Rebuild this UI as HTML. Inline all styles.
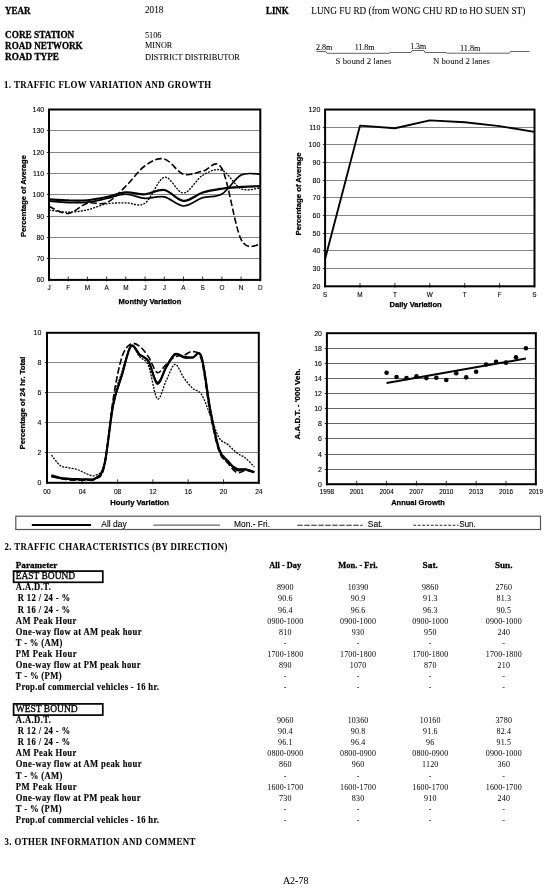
<!DOCTYPE html>
<html><head><meta charset="utf-8"><title>A2-78</title>
<style>
html,body{margin:0;padding:0;background:#fff;}
body{width:550px;height:889px;overflow:hidden;position:relative;}
svg{position:absolute;left:0;top:0;display:block;will-change:transform;filter:blur(0.25px);}
.S{font-family:"Liberation Serif",serif;stroke:#000;stroke-width:0.06px;}
.S[font-weight=bold]{stroke-width:0.28px;}
.A{font-family:"Liberation Sans",sans-serif;stroke:#000;stroke-width:0.1px;}
.A[font-weight=bold]{stroke-width:0.25px;}
</style></head>
<body>
<svg width="550" height="889" viewBox="0 0 550 889">
<rect width="550" height="889" fill="#fff"/>
<text class="S" transform="translate(5.10 14.00) scale(1 1.1)" font-size="9.2" font-weight="bold" textLength="25.4" lengthAdjust="spacingAndGlyphs" fill="#000">YEAR</text>
<text class="S" transform="translate(145.00 13.40) scale(1 1.08)" font-size="9.2" textLength="18.3" lengthAdjust="spacingAndGlyphs" fill="#000">2018</text>
<text class="S" transform="translate(266.00 13.60) scale(1 1.1)" font-size="9.2" font-weight="bold" textLength="22.6" lengthAdjust="spacingAndGlyphs" fill="#000">LINK</text>
<text class="S" transform="translate(311.30 13.60) scale(1 1.08)" font-size="9.2" textLength="214.0" lengthAdjust="spacingAndGlyphs" fill="#000">LUNG FU RD (from WONG CHU RD to HO SUEN ST)</text>
<text class="S" transform="translate(5.10 37.80) scale(1 1.12)" font-size="9.2" font-weight="bold" textLength="69.2" lengthAdjust="spacingAndGlyphs" fill="#000">CORE STATION</text>
<text class="S" transform="translate(5.10 48.70) scale(1 1.12)" font-size="9.2" font-weight="bold" textLength="77.6" lengthAdjust="spacingAndGlyphs" fill="#000">ROAD NETWORK</text>
<text class="S" transform="translate(5.10 59.70) scale(1 1.12)" font-size="9.2" font-weight="bold" textLength="53.9" lengthAdjust="spacingAndGlyphs" fill="#000">ROAD TYPE</text>
<text class="S" transform="translate(145.00 37.60) scale(1 1.08)" font-size="8.4" textLength="16.4" lengthAdjust="spacingAndGlyphs" fill="#000">5106</text>
<text class="S" transform="translate(145.00 47.90) scale(1 1.08)" font-size="8.4" textLength="27.3" lengthAdjust="spacingAndGlyphs" fill="#000">MINOR</text>
<text class="S" transform="translate(145.00 59.50) scale(1 1.08)" font-size="8.4" textLength="94.9" lengthAdjust="spacingAndGlyphs" fill="#000">DISTRICT DISTRIBUTOR</text>
<path d="M316.5 51.5 H326 L327 53.3 H389 L390 52.5 H411 L412 50.5 H424 L425 52.5 H446 L447 53.2 H509.5 L510.5 51.5 H529.5" fill="none" stroke="#555" stroke-width="0.9"/>
<text class="S" transform="translate(316.00 49.60) scale(1 1.08)" font-size="8.2" textLength="16.4" lengthAdjust="spacingAndGlyphs" fill="#000">2.8m</text>
<text class="S" transform="translate(354.70 50.10) scale(1 1.08)" font-size="8.2" textLength="19.8" lengthAdjust="spacingAndGlyphs" fill="#000">11.8m</text>
<text class="S" transform="translate(410.20 49.00) scale(1 1.08)" font-size="8.2" textLength="16.0" lengthAdjust="spacingAndGlyphs" fill="#000">1.3m</text>
<text class="S" transform="translate(460.00 50.50) scale(1 1.08)" font-size="8.2" textLength="20.4" lengthAdjust="spacingAndGlyphs" fill="#000">11.8m</text>
<text class="S" transform="translate(335.60 63.80) scale(1 1.08)" font-size="7.8" textLength="55.7" lengthAdjust="spacingAndGlyphs" fill="#222">S bound 2 lanes</text>
<text class="S" transform="translate(433.00 64.00) scale(1 1.08)" font-size="7.8" textLength="57.0" lengthAdjust="spacingAndGlyphs" fill="#222">N bound 2 lanes</text>
<text class="S" transform="translate(4.00 88.20) scale(1 1.08)" font-size="8.8" font-weight="bold" textLength="207.2" lengthAdjust="spacing" fill="#000" style="stroke-width:0.05px">1. TRAFFIC FLOW VARIATION AND GROWTH</text>
<path d="M49 258.5H260.3M49 237.5H260.3M49 216.5H260.3M49 194.5H260.3M49 173.5H260.3M49 152.5H260.3M49 130.5H260.3" stroke="#858585" stroke-width="1" fill="none"/>
<path d="M46.8 258.5H49M46.8 237.5H49M46.8 216.5H49M46.8 194.5H49M46.8 173.5H49M46.8 152.5H49M46.8 130.5H49" stroke="#000" stroke-width="0.8" fill="none"/>
<path d="M49 210.04 C52.2 210.39 61.81 212.2 68.21 212.17 C74.61 212.13 81.02 211.21 87.42 209.82 C93.82 208.44 100.22 205.03 106.63 203.86 C113.03 202.69 119.43 202.9 125.84 202.79 C132.24 202.69 138.64 207.48 145.05 203.22 C151.45 198.96 157.85 178.94 164.25 177.23 C170.66 175.53 177.06 193.32 183.46 193 C189.87 192.68 196.27 179.12 202.67 175.32 C209.08 171.52 215.48 167.97 221.88 170.2 C228.28 172.44 234.69 185.79 241.09 188.74 C247.49 191.68 257.1 188.03 260.3 187.88" stroke="#000" stroke-width="1.3" stroke-dasharray="2 1.2" fill="none"/>
<path d="M49 206.41 C52.2 207.59 61.81 213.98 68.21 213.44 C74.61 212.91 81.02 205 87.42 203.22 C93.82 201.44 100.22 205.63 106.63 202.79 C113.03 199.95 119.43 192.36 125.84 186.18 C132.24 180 138.64 170.28 145.05 165.73 C151.45 161.19 157.85 157.5 164.25 158.92 C170.66 160.34 177.06 172.19 183.46 174.25 C189.87 176.31 196.27 172.23 202.67 171.27 C209.08 170.31 215.48 157.14 221.88 168.5 C228.28 179.86 234.69 226.76 241.09 239.43 C247.49 252.1 257.1 243.69 260.3 244.54" stroke="#000" stroke-width="1.6" stroke-dasharray="6.5 2.6" fill="none"/>
<path d="M49 201.09 C52.2 201.34 61.81 202.4 68.21 202.58 C74.61 202.76 81.02 202.83 87.42 202.16 C93.82 201.48 100.22 199.85 106.63 198.53 C113.03 197.22 119.43 194.31 125.84 194.27 C132.24 194.24 138.64 197.9 145.05 198.32 C151.45 198.75 157.85 195.55 164.25 196.83 C170.66 198.11 177.06 205.85 183.46 205.99 C189.87 206.13 196.27 199.67 202.67 197.68 C209.08 195.69 215.48 197.82 221.88 194.06 C228.28 190.3 234.69 178.41 241.09 175.1 C247.49 171.8 257.1 174.39 260.3 174.25" stroke="#000" stroke-width="1.7" fill="none"/>
<path d="M49 199.39 C52.2 199.56 61.81 200.31 68.21 200.45 C74.61 200.59 81.02 200.81 87.42 200.24 C93.82 199.67 100.22 198.36 106.63 197.04 C113.03 195.73 119.43 192.82 125.84 192.36 C132.24 191.9 138.64 194.66 145.05 194.27 C151.45 193.88 157.85 188.91 164.25 190.01 C170.66 191.11 177.06 200.45 183.46 200.88 C189.87 201.3 196.27 194.59 202.67 192.57 C209.08 190.55 215.48 189.69 221.88 188.74 C228.28 187.78 234.69 187.24 241.09 186.82 C247.49 186.39 257.1 186.29 260.3 186.18" stroke="#000" stroke-width="2.2" fill="none"/>
<rect x="49" y="109.5" width="211.3" height="170.4" fill="none" stroke="#000" stroke-width="2"/>
<path d="M49 281.3v-4.8M68.21 281.3v-4.8M87.42 281.3v-4.8M106.63 281.3v-4.8M125.84 281.3v-4.8M145.05 281.3v-4.8M164.25 281.3v-4.8M183.46 281.3v-4.8M202.67 281.3v-4.8M221.88 281.3v-4.8M241.09 281.3v-4.8M260.3 281.3v-4.8" stroke="#000" stroke-width="0.8" fill="none"/>
<text class="A" x="44.20" y="282.40" font-size="7" text-anchor="end" fill="#000">60</text>
<text class="A" x="44.20" y="261.10" font-size="7" text-anchor="end" fill="#000">70</text>
<text class="A" x="44.20" y="239.80" font-size="7" text-anchor="end" fill="#000">80</text>
<text class="A" x="44.20" y="218.50" font-size="7" text-anchor="end" fill="#000">90</text>
<text class="A" x="44.20" y="197.20" font-size="7" text-anchor="end" fill="#000">100</text>
<text class="A" x="44.20" y="175.90" font-size="7" text-anchor="end" fill="#000">110</text>
<text class="A" x="44.20" y="154.60" font-size="7" text-anchor="end" fill="#000">120</text>
<text class="A" x="44.20" y="133.30" font-size="7" text-anchor="end" fill="#000">130</text>
<text class="A" x="44.20" y="112.00" font-size="7" text-anchor="end" fill="#000">140</text>
<text class="A" x="49.00" y="289.90" font-size="6.4" text-anchor="middle" fill="#000">J</text>
<text class="A" x="68.21" y="289.90" font-size="6.4" text-anchor="middle" fill="#000">F</text>
<text class="A" x="87.42" y="289.90" font-size="6.4" text-anchor="middle" fill="#000">M</text>
<text class="A" x="106.63" y="289.90" font-size="6.4" text-anchor="middle" fill="#000">A</text>
<text class="A" x="125.84" y="289.90" font-size="6.4" text-anchor="middle" fill="#000">M</text>
<text class="A" x="145.05" y="289.90" font-size="6.4" text-anchor="middle" fill="#000">J</text>
<text class="A" x="164.25" y="289.90" font-size="6.4" text-anchor="middle" fill="#000">J</text>
<text class="A" x="183.46" y="289.90" font-size="6.4" text-anchor="middle" fill="#000">A</text>
<text class="A" x="202.67" y="289.90" font-size="6.4" text-anchor="middle" fill="#000">S</text>
<text class="A" x="221.88" y="289.90" font-size="6.4" text-anchor="middle" fill="#000">O</text>
<text class="A" x="241.09" y="289.90" font-size="6.4" text-anchor="middle" fill="#000">N</text>
<text class="A" x="260.30" y="289.90" font-size="6.4" text-anchor="middle" fill="#000">D</text>
<text class="A" x="149.90" y="304.40" font-size="7.4" font-weight="bold" text-anchor="middle" textLength="62.7" lengthAdjust="spacingAndGlyphs" fill="#000">Monthly Variation</text>
<text class="A" x="0" y="0" font-size="7.4" font-weight="bold" text-anchor="middle" textLength="82" lengthAdjust="spacingAndGlyphs" transform="translate(25.8 196) rotate(-90)">Percentage of Average</text>
<path d="M325.1 268.5H534.5M325.1 250.5H534.5M325.1 233.5H534.5M325.1 215.5H534.5M325.1 197.5H534.5M325.1 180.5H534.5M325.1 162.5H534.5M325.1 144.5H534.5M325.1 127.5H534.5" stroke="#858585" stroke-width="1" fill="none"/>
<path d="M322.9 268.5H325.1M322.9 250.5H325.1M322.9 233.5H325.1M322.9 215.5H325.1M322.9 197.5H325.1M322.9 180.5H325.1M322.9 162.5H325.1M322.9 144.5H325.1M322.9 127.5H325.1" stroke="#000" stroke-width="0.8" fill="none"/>
<path d="M325.1 258.9 L360 125.63 L394.9 128.29 L429.8 120.33 L464.7 122.28 L499.6 126.16 L534.5 131.82" stroke="#000" stroke-width="1.9" fill="none" stroke-linejoin="round"/>
<rect x="325.1" y="109.55" width="209.4" height="176.75" fill="none" stroke="#000" stroke-width="2"/>
<path d="M325.1 287.7v-4.8M360 287.7v-4.8M394.9 287.7v-4.8M429.8 287.7v-4.8M464.7 287.7v-4.8M499.6 287.7v-4.8M534.5 287.7v-4.8" stroke="#000" stroke-width="0.8" fill="none"/>
<text class="A" x="320.30" y="288.80" font-size="7" text-anchor="end" fill="#000">20</text>
<text class="A" x="320.30" y="271.12" font-size="7" text-anchor="end" fill="#000">30</text>
<text class="A" x="320.30" y="253.45" font-size="7" text-anchor="end" fill="#000">40</text>
<text class="A" x="320.30" y="235.78" font-size="7" text-anchor="end" fill="#000">50</text>
<text class="A" x="320.30" y="218.10" font-size="7" text-anchor="end" fill="#000">60</text>
<text class="A" x="320.30" y="200.43" font-size="7" text-anchor="end" fill="#000">70</text>
<text class="A" x="320.30" y="182.75" font-size="7" text-anchor="end" fill="#000">80</text>
<text class="A" x="320.30" y="165.07" font-size="7" text-anchor="end" fill="#000">90</text>
<text class="A" x="320.30" y="147.40" font-size="7" text-anchor="end" fill="#000">100</text>
<text class="A" x="320.30" y="129.72" font-size="7" text-anchor="end" fill="#000">110</text>
<text class="A" x="320.30" y="112.05" font-size="7" text-anchor="end" fill="#000">120</text>
<text class="A" x="325.10" y="297.00" font-size="6.4" text-anchor="middle" fill="#000">S</text>
<text class="A" x="360.00" y="297.00" font-size="6.4" text-anchor="middle" fill="#000">M</text>
<text class="A" x="394.90" y="297.00" font-size="6.4" text-anchor="middle" fill="#000">T</text>
<text class="A" x="429.80" y="297.00" font-size="6.4" text-anchor="middle" fill="#000">W</text>
<text class="A" x="464.70" y="297.00" font-size="6.4" text-anchor="middle" fill="#000">T</text>
<text class="A" x="499.60" y="297.00" font-size="6.4" text-anchor="middle" fill="#000">F</text>
<text class="A" x="534.50" y="297.00" font-size="6.4" text-anchor="middle" fill="#000">S</text>
<text class="A" x="415.60" y="307.20" font-size="7.4" font-weight="bold" text-anchor="middle" textLength="52.3" lengthAdjust="spacingAndGlyphs" fill="#000">Daily Variation</text>
<text class="A" x="0" y="0" font-size="7.4" font-weight="bold" text-anchor="middle" textLength="83" lengthAdjust="spacingAndGlyphs" transform="translate(300.5 194) rotate(-90)">Percentage of Average</text>
<path d="M47 452.5H258.8M47 422.5H258.8M47 392.5H258.8M47 362.5H258.8" stroke="#858585" stroke-width="1" fill="none"/>
<path d="M44.8 452.5H47M44.8 422.5H47M44.8 392.5H47M44.8 362.5H47" stroke="#000" stroke-width="0.8" fill="none"/>
<path d="M51.41 455.05 C52.88 456.8 57.3 463.43 60.24 465.55 C63.18 467.68 66.12 467.1 69.06 467.8 C72 468.5 74.95 468.75 77.89 469.75 C80.83 470.75 83.77 472.88 86.71 473.8 C89.65 474.73 92.6 477.05 95.54 475.3 C98.48 473.55 101.42 475.55 104.36 463.3 C107.3 451.05 110.25 417.05 113.19 401.8 C116.13 386.55 119.07 381.05 122.01 371.8 C124.95 362.55 127.9 348.8 130.84 346.3 C133.78 343.8 136.72 353.55 139.66 356.8 C142.6 360.05 145.55 358.8 148.49 365.8 C151.43 372.8 154.37 396.3 157.31 398.8 C160.25 401.3 163.2 386.55 166.14 380.8 C169.08 375.05 172.02 364.8 174.96 364.3 C177.9 363.8 180.85 373.8 183.79 377.8 C186.73 381.8 189.67 385.55 192.61 388.3 C195.55 391.05 198.5 389.8 201.44 394.3 C204.38 398.8 207.32 408.05 210.26 415.3 C213.2 422.55 216.15 432.93 219.09 437.8 C222.03 442.68 224.97 442.05 227.91 444.55 C230.85 447.05 233.8 450.55 236.74 452.8 C239.68 455.05 242.62 455.68 245.56 458.05 C248.5 460.43 252.92 465.55 254.39 467.05" stroke="#000" stroke-width="1.3" stroke-dasharray="2 1.2" fill="none"/>
<path d="M51.41 476.8 C52.88 477.05 57.3 477.8 60.24 478.3 C63.18 478.8 66.12 479.5 69.06 479.8 C72 480.1 74.95 480.05 77.89 480.1 C80.83 480.15 83.77 480.28 86.71 480.1 C89.65 479.93 92.6 481.35 95.54 479.05 C98.48 476.75 101.42 479.68 104.36 466.3 C107.3 452.93 110.25 417.05 113.19 398.8 C116.13 380.55 119.07 365.93 122.01 356.8 C124.95 347.68 127.9 345.8 130.84 344.05 C133.78 342.3 136.72 344.18 139.66 346.3 C142.6 348.43 145.55 352.43 148.49 356.8 C151.43 361.18 154.37 371.3 157.31 372.55 C160.25 373.8 163.2 366.93 166.14 364.3 C169.08 361.68 172.02 358.3 174.96 356.8 C177.9 355.3 180.85 356.18 183.79 355.3 C186.73 354.43 189.67 350.8 192.61 351.55 C195.55 352.3 198.5 349.43 201.44 359.8 C204.38 370.18 207.32 398.55 210.26 413.8 C213.2 429.05 216.15 443.05 219.09 451.3 C222.03 459.55 224.97 459.75 227.91 463.3 C230.85 466.85 233.8 471.4 236.74 472.6 C239.68 473.8 242.62 470.55 245.56 470.5 C248.5 470.45 252.92 472 254.39 472.3" stroke="#000" stroke-width="1.6" stroke-dasharray="6.5 2.6" fill="none"/>
<path d="M51.41 476.05 C52.88 476.43 57.3 477.8 60.24 478.3 C63.18 478.8 66.12 478.85 69.06 479.05 C72 479.25 74.95 479.43 77.89 479.5 C80.83 479.57 83.77 479.7 86.71 479.5 C89.65 479.3 92.6 480.75 95.54 478.3 C98.48 475.85 101.42 477.05 104.36 464.8 C107.3 452.55 110.25 419.8 113.19 404.8 C116.13 389.8 119.07 384.55 122.01 374.8 C124.95 365.05 127.9 349.68 130.84 346.3 C133.78 342.93 136.72 352.05 139.66 354.55 C142.6 357.05 145.55 356.68 148.49 361.3 C151.43 365.93 154.37 381.3 157.31 382.3 C160.25 383.3 163.2 372.05 166.14 367.3 C169.08 362.55 172.02 355.43 174.96 353.8 C177.9 352.18 180.85 356.93 183.79 357.55 C186.73 358.18 189.67 357.68 192.61 357.55 C195.55 357.43 198.5 348.18 201.44 356.8 C204.38 365.43 207.32 393.8 210.26 409.3 C213.2 424.8 216.15 441.05 219.09 449.8 C222.03 458.55 224.97 458.68 227.91 461.8 C230.85 464.93 233.8 467.3 236.74 468.55 C239.68 469.8 242.62 468.73 245.56 469.3 C248.5 469.88 252.92 471.55 254.39 472" stroke="#000" stroke-width="1.7" fill="none"/>
<path d="M51.41 475.3 C52.88 475.73 57.3 477.28 60.24 477.85 C63.18 478.43 66.12 478.52 69.06 478.75 C72 478.98 74.95 479.1 77.89 479.2 C80.83 479.3 83.77 479.5 86.71 479.35 C89.65 479.2 92.6 480.73 95.54 478.3 C98.48 475.88 101.42 477.05 104.36 464.8 C107.3 452.55 110.25 419.8 113.19 404.8 C116.13 389.8 119.07 384.55 122.01 374.8 C124.95 365.05 127.9 349.68 130.84 346.3 C133.78 342.93 136.72 352.05 139.66 354.55 C142.6 357.05 145.55 356.43 148.49 361.3 C151.43 366.18 154.37 382.8 157.31 383.8 C160.25 384.8 163.2 372.18 166.14 367.3 C169.08 362.43 172.02 356.3 174.96 354.55 C177.9 352.8 180.85 356.3 183.79 356.8 C186.73 357.3 189.67 357.55 192.61 357.55 C195.55 357.55 198.5 348.05 201.44 356.8 C204.38 365.55 207.32 394.68 210.26 410.05 C213.2 425.43 216.15 440.55 219.09 449.05 C222.03 457.55 224.97 457.55 227.91 461.05 C230.85 464.55 233.8 468.68 236.74 470.05 C239.68 471.43 242.62 468.93 245.56 469.3 C248.5 469.68 252.92 471.8 254.39 472.3" stroke="#000" stroke-width="2.2" fill="none"/>
<rect x="47" y="332.8" width="211.8" height="150" fill="none" stroke="#000" stroke-width="2"/>
<path d="M47 484.2v-4.8M82.3 484.2v-4.8M117.6 484.2v-4.8M152.9 484.2v-4.8M188.2 484.2v-4.8M223.5 484.2v-4.8M258.8 484.2v-4.8" stroke="#000" stroke-width="0.8" fill="none"/>
<text class="A" x="41.40" y="485.30" font-size="7" text-anchor="end" fill="#000">0</text>
<text class="A" x="41.40" y="455.30" font-size="7" text-anchor="end" fill="#000">2</text>
<text class="A" x="41.40" y="425.30" font-size="7" text-anchor="end" fill="#000">4</text>
<text class="A" x="41.40" y="395.30" font-size="7" text-anchor="end" fill="#000">6</text>
<text class="A" x="41.40" y="365.30" font-size="7" text-anchor="end" fill="#000">8</text>
<text class="A" x="41.40" y="335.30" font-size="7" text-anchor="end" fill="#000">10</text>
<text class="A" x="47.00" y="493.50" font-size="6.6" text-anchor="middle" fill="#000">00</text>
<text class="A" x="82.30" y="493.50" font-size="6.6" text-anchor="middle" fill="#000">04</text>
<text class="A" x="117.60" y="493.50" font-size="6.6" text-anchor="middle" fill="#000">08</text>
<text class="A" x="152.90" y="493.50" font-size="6.6" text-anchor="middle" fill="#000">12</text>
<text class="A" x="188.20" y="493.50" font-size="6.6" text-anchor="middle" fill="#000">16</text>
<text class="A" x="223.50" y="493.50" font-size="6.6" text-anchor="middle" fill="#000">20</text>
<text class="A" x="258.80" y="493.50" font-size="6.6" text-anchor="middle" fill="#000">24</text>
<text class="A" x="139.60" y="505.10" font-size="7.4" font-weight="bold" text-anchor="middle" textLength="58.6" lengthAdjust="spacingAndGlyphs" fill="#000">Hourly Variation</text>
<text class="A" x="0" y="0" font-size="7.4" font-weight="bold" text-anchor="middle" textLength="93" lengthAdjust="spacingAndGlyphs" transform="translate(25.0 403) rotate(-90)">Percentage of 24 hr. Total</text>
<path d="M326.9 469.5H535.85M326.9 454.5H535.85M326.9 438.5H535.85M326.9 423.5H535.85M326.9 408.5H535.85M326.9 393.5H535.85M326.9 378.5H535.85M326.9 363.5H535.85M326.9 348.5H535.85" stroke="#666" stroke-width="1" fill="none"/>
<path d="M324.7 469.5H326.9M324.7 454.5H326.9M324.7 438.5H326.9M324.7 423.5H326.9M324.7 408.5H326.9M324.7 393.5H326.9M324.7 378.5H326.9M324.7 363.5H326.9M324.7 348.5H326.9" stroke="#000" stroke-width="0.8" fill="none"/>
<path d="M386.6 383.03 L525.9 358.49" stroke="#000" stroke-width="2" fill="none"/>
<circle cx="386.6" cy="372.69" r="2.3" fill="#000"/>
<circle cx="396.55" cy="377.07" r="2.3" fill="#000"/>
<circle cx="406.5" cy="378.12" r="2.3" fill="#000"/>
<circle cx="416.45" cy="376.24" r="2.3" fill="#000"/>
<circle cx="426.4" cy="378.12" r="2.3" fill="#000"/>
<circle cx="436.35" cy="377.75" r="2.3" fill="#000"/>
<circle cx="446.3" cy="380.01" r="2.3" fill="#000"/>
<circle cx="456.25" cy="373.22" r="2.3" fill="#000"/>
<circle cx="466.2" cy="377.37" r="2.3" fill="#000"/>
<circle cx="476.15" cy="371.7" r="2.3" fill="#000"/>
<circle cx="486.1" cy="364.53" r="2.3" fill="#000"/>
<circle cx="496.05" cy="361.89" r="2.3" fill="#000"/>
<circle cx="506" cy="362.64" r="2.3" fill="#000"/>
<circle cx="515.95" cy="357.36" r="2.3" fill="#000"/>
<circle cx="525.9" cy="348.3" r="2.3" fill="#000"/>
<rect x="326.9" y="333.2" width="208.95" height="151" fill="none" stroke="#000" stroke-width="2"/>
<path d="M326.9 485.6v-4.8M356.75 485.6v-4.8M386.6 485.6v-4.8M416.45 485.6v-4.8M446.3 485.6v-4.8M476.15 485.6v-4.8M506 485.6v-4.8M535.85 485.6v-4.8" stroke="#000" stroke-width="0.8" fill="none"/>
<text class="A" x="322.00" y="486.70" font-size="7" text-anchor="end" fill="#000">0</text>
<text class="A" x="322.00" y="471.60" font-size="7" text-anchor="end" fill="#000">2</text>
<text class="A" x="322.00" y="456.50" font-size="7" text-anchor="end" fill="#000">4</text>
<text class="A" x="322.00" y="441.40" font-size="7" text-anchor="end" fill="#000">6</text>
<text class="A" x="322.00" y="426.30" font-size="7" text-anchor="end" fill="#000">8</text>
<text class="A" x="322.00" y="411.20" font-size="7" text-anchor="end" fill="#000">10</text>
<text class="A" x="322.00" y="396.10" font-size="7" text-anchor="end" fill="#000">12</text>
<text class="A" x="322.00" y="381.00" font-size="7" text-anchor="end" fill="#000">14</text>
<text class="A" x="322.00" y="365.90" font-size="7" text-anchor="end" fill="#000">16</text>
<text class="A" x="322.00" y="350.80" font-size="7" text-anchor="end" fill="#000">18</text>
<text class="A" x="322.00" y="335.70" font-size="7" text-anchor="end" fill="#000">20</text>
<text class="A" x="326.90" y="494.40" font-size="6.4" text-anchor="middle" textLength="14.2" lengthAdjust="spacingAndGlyphs" fill="#000">1998</text>
<text class="A" x="356.75" y="494.40" font-size="6.4" text-anchor="middle" textLength="14.2" lengthAdjust="spacingAndGlyphs" fill="#000">2001</text>
<text class="A" x="386.60" y="494.40" font-size="6.4" text-anchor="middle" textLength="14.2" lengthAdjust="spacingAndGlyphs" fill="#000">2004</text>
<text class="A" x="416.45" y="494.40" font-size="6.4" text-anchor="middle" textLength="14.2" lengthAdjust="spacingAndGlyphs" fill="#000">2007</text>
<text class="A" x="446.30" y="494.40" font-size="6.4" text-anchor="middle" textLength="14.2" lengthAdjust="spacingAndGlyphs" fill="#000">2010</text>
<text class="A" x="476.15" y="494.40" font-size="6.4" text-anchor="middle" textLength="14.2" lengthAdjust="spacingAndGlyphs" fill="#000">2013</text>
<text class="A" x="506.00" y="494.40" font-size="6.4" text-anchor="middle" textLength="14.2" lengthAdjust="spacingAndGlyphs" fill="#000">2016</text>
<text class="A" x="535.85" y="494.40" font-size="6.4" text-anchor="middle" textLength="14.2" lengthAdjust="spacingAndGlyphs" fill="#000">2019</text>
<text class="A" x="418.00" y="505.30" font-size="7.4" font-weight="bold" text-anchor="middle" textLength="53.6" lengthAdjust="spacingAndGlyphs" fill="#000">Annual Growth</text>
<text class="A" x="0" y="0" font-size="7.4" font-weight="bold" text-anchor="middle" textLength="71" lengthAdjust="spacingAndGlyphs" transform="translate(300.0 404) rotate(-90)">A.A.D.T. - '000 Veh.</text>
<rect x="15.8" y="516.2" width="524.7" height="13.3" fill="none" stroke="#555" stroke-width="1.2"/>
<path d="M31.8 524.9H91.1" stroke="#000" stroke-width="2"/>
<text class="A" x="101.30" y="527.20" font-size="9" textLength="25.4" lengthAdjust="spacingAndGlyphs" fill="#000">All day</text>
<path d="M153.3 525.1H220" stroke="#444" stroke-width="1"/>
<text class="A" x="234.00" y="527.20" font-size="9" textLength="36.0" lengthAdjust="spacingAndGlyphs" fill="#000">Mon.- Fri.</text>
<path d="M297.3 525.3H362.7" stroke="#222" stroke-width="1.1" stroke-dasharray="5.4 1.6"/>
<text class="A" x="367.80" y="527.20" font-size="9" textLength="15.2" lengthAdjust="spacingAndGlyphs" fill="#000">Sat.</text>
<path d="M413.5 525.3H458.5" stroke="#222" stroke-width="1.1" stroke-dasharray="2.7 1.65"/>
<text class="A" x="459.60" y="527.20" font-size="9" textLength="16.0" lengthAdjust="spacingAndGlyphs" fill="#000">Sun.</text>
<text class="S" transform="translate(4.60 549.60) scale(1 1.08)" font-size="8.8" font-weight="bold" textLength="222.9" lengthAdjust="spacing" fill="#000" style="stroke-width:0.05px">2. TRAFFIC CHARACTERISTICS (BY DIRECTION)</text>
<text class="S" x="15.80" y="567.70" font-size="9.2" font-weight="bold" textLength="41.5" lengthAdjust="spacingAndGlyphs" fill="#000">Parameter</text>
<text class="S" x="285.20" y="567.80" font-size="9.2" font-weight="bold" text-anchor="middle" textLength="31.8" lengthAdjust="spacingAndGlyphs" fill="#000">All - Day</text>
<text class="S" x="358.00" y="567.80" font-size="9.2" font-weight="bold" text-anchor="middle" textLength="39.3" lengthAdjust="spacingAndGlyphs" fill="#000">Mon. - Fri.</text>
<text class="S" x="430.20" y="567.80" font-size="9.2" font-weight="bold" text-anchor="middle" textLength="15.5" lengthAdjust="spacingAndGlyphs" fill="#000">Sat.</text>
<text class="S" x="503.70" y="567.80" font-size="9.2" font-weight="bold" text-anchor="middle" textLength="17.5" lengthAdjust="spacingAndGlyphs" fill="#000">Sun.</text>
<rect x="13.6" y="571.1" width="89.2" height="11.2" fill="none" stroke="#000" stroke-width="1.7"/>
<text class="S" transform="translate(15.80 579.10) scale(1 1.08)" font-size="9.2" textLength="59.3" lengthAdjust="spacingAndGlyphs" fill="#000" style="stroke-width:0.3px">EAST BOUND</text>
<text class="S" transform="translate(15.80 590.37) scale(1 1.12)" font-size="8.6" font-weight="bold" textLength="35.1" lengthAdjust="spacing" fill="#000" style="stroke-width:0.12px">A.A.D.T.</text>
<text class="S" transform="translate(285.20 590.37) scale(1 1.15)" font-size="8.0" text-anchor="middle" textLength="16.6" lengthAdjust="spacing" fill="#000" style="stroke-width:0">8900</text>
<text class="S" transform="translate(358.00 590.37) scale(1 1.15)" font-size="8.0" text-anchor="middle" textLength="20.7" lengthAdjust="spacing" fill="#000" style="stroke-width:0">10390</text>
<text class="S" transform="translate(430.20 590.37) scale(1 1.15)" font-size="8.0" text-anchor="middle" textLength="16.6" lengthAdjust="spacing" fill="#000" style="stroke-width:0">9860</text>
<text class="S" transform="translate(503.70 590.37) scale(1 1.15)" font-size="8.0" text-anchor="middle" textLength="16.6" lengthAdjust="spacing" fill="#000" style="stroke-width:0">2760</text>
<text class="S" transform="translate(17.80 601.44) scale(1 1.12)" font-size="8.6" font-weight="bold" textLength="52.2" lengthAdjust="spacing" fill="#000" style="stroke-width:0.12px">R 12 / 24 - %</text>
<text class="S" transform="translate(285.20 601.44) scale(1 1.15)" font-size="8.0" text-anchor="middle" textLength="14.5" lengthAdjust="spacing" fill="#000" style="stroke-width:0">90.6</text>
<text class="S" transform="translate(358.00 601.44) scale(1 1.15)" font-size="8.0" text-anchor="middle" textLength="14.5" lengthAdjust="spacing" fill="#000" style="stroke-width:0">90.9</text>
<text class="S" transform="translate(430.20 601.44) scale(1 1.15)" font-size="8.0" text-anchor="middle" textLength="14.5" lengthAdjust="spacing" fill="#000" style="stroke-width:0">91.3</text>
<text class="S" transform="translate(503.70 601.44) scale(1 1.15)" font-size="8.0" text-anchor="middle" textLength="14.5" lengthAdjust="spacing" fill="#000" style="stroke-width:0">81.3</text>
<text class="S" transform="translate(17.80 612.51) scale(1 1.12)" font-size="8.6" font-weight="bold" textLength="52.2" lengthAdjust="spacing" fill="#000" style="stroke-width:0.12px">R 16 / 24 - %</text>
<text class="S" transform="translate(285.20 612.51) scale(1 1.15)" font-size="8.0" text-anchor="middle" textLength="14.5" lengthAdjust="spacing" fill="#000" style="stroke-width:0">96.4</text>
<text class="S" transform="translate(358.00 612.51) scale(1 1.15)" font-size="8.0" text-anchor="middle" textLength="14.5" lengthAdjust="spacing" fill="#000" style="stroke-width:0">96.6</text>
<text class="S" transform="translate(430.20 612.51) scale(1 1.15)" font-size="8.0" text-anchor="middle" textLength="14.5" lengthAdjust="spacing" fill="#000" style="stroke-width:0">96.3</text>
<text class="S" transform="translate(503.70 612.51) scale(1 1.15)" font-size="8.0" text-anchor="middle" textLength="14.5" lengthAdjust="spacing" fill="#000" style="stroke-width:0">90.5</text>
<text class="S" transform="translate(15.80 623.58) scale(1 1.12)" font-size="8.6" font-weight="bold" textLength="60.5" lengthAdjust="spacing" fill="#000" style="stroke-width:0.12px">AM Peak Hour</text>
<text class="S" transform="translate(285.20 623.58) scale(1 1.15)" font-size="8.0" text-anchor="middle" textLength="35.9" lengthAdjust="spacing" fill="#000" style="stroke-width:0">0900-1000</text>
<text class="S" transform="translate(358.00 623.58) scale(1 1.15)" font-size="8.0" text-anchor="middle" textLength="35.9" lengthAdjust="spacing" fill="#000" style="stroke-width:0">0900-1000</text>
<text class="S" transform="translate(430.20 623.58) scale(1 1.15)" font-size="8.0" text-anchor="middle" textLength="35.9" lengthAdjust="spacing" fill="#000" style="stroke-width:0">0900-1000</text>
<text class="S" transform="translate(503.70 623.58) scale(1 1.15)" font-size="8.0" text-anchor="middle" textLength="35.9" lengthAdjust="spacing" fill="#000" style="stroke-width:0">0900-1000</text>
<text class="S" transform="translate(15.80 634.65) scale(1 1.12)" font-size="8.6" font-weight="bold" textLength="125.7" lengthAdjust="spacing" fill="#000" style="stroke-width:0.12px">One-way flow at AM peak hour</text>
<text class="S" transform="translate(285.20 634.65) scale(1 1.15)" font-size="8.0" text-anchor="middle" textLength="12.4" lengthAdjust="spacing" fill="#000" style="stroke-width:0">810</text>
<text class="S" transform="translate(358.00 634.65) scale(1 1.15)" font-size="8.0" text-anchor="middle" textLength="12.4" lengthAdjust="spacing" fill="#000" style="stroke-width:0">930</text>
<text class="S" transform="translate(430.20 634.65) scale(1 1.15)" font-size="8.0" text-anchor="middle" textLength="12.4" lengthAdjust="spacing" fill="#000" style="stroke-width:0">950</text>
<text class="S" transform="translate(503.70 634.65) scale(1 1.15)" font-size="8.0" text-anchor="middle" textLength="12.4" lengthAdjust="spacing" fill="#000" style="stroke-width:0">240</text>
<text class="S" transform="translate(15.80 645.72) scale(1 1.12)" font-size="8.6" font-weight="bold" textLength="46.5" lengthAdjust="spacing" fill="#000" style="stroke-width:0.12px">T - % (AM)</text>
<text class="S" transform="translate(285.20 645.72) scale(1 1.15)" font-size="8.0" text-anchor="middle" fill="#000" style="stroke-width:0">-</text>
<text class="S" transform="translate(358.00 645.72) scale(1 1.15)" font-size="8.0" text-anchor="middle" fill="#000" style="stroke-width:0">-</text>
<text class="S" transform="translate(430.20 645.72) scale(1 1.15)" font-size="8.0" text-anchor="middle" fill="#000" style="stroke-width:0">-</text>
<text class="S" transform="translate(503.70 645.72) scale(1 1.15)" font-size="8.0" text-anchor="middle" fill="#000" style="stroke-width:0">-</text>
<text class="S" transform="translate(15.80 656.79) scale(1 1.12)" font-size="8.6" font-weight="bold" textLength="60.7" lengthAdjust="spacing" fill="#000" style="stroke-width:0.12px">PM Peak Hour</text>
<text class="S" transform="translate(285.20 656.79) scale(1 1.15)" font-size="8.0" text-anchor="middle" textLength="35.9" lengthAdjust="spacing" fill="#000" style="stroke-width:0">1700-1800</text>
<text class="S" transform="translate(358.00 656.79) scale(1 1.15)" font-size="8.0" text-anchor="middle" textLength="35.9" lengthAdjust="spacing" fill="#000" style="stroke-width:0">1700-1800</text>
<text class="S" transform="translate(430.20 656.79) scale(1 1.15)" font-size="8.0" text-anchor="middle" textLength="35.9" lengthAdjust="spacing" fill="#000" style="stroke-width:0">1700-1800</text>
<text class="S" transform="translate(503.70 656.79) scale(1 1.15)" font-size="8.0" text-anchor="middle" textLength="35.9" lengthAdjust="spacing" fill="#000" style="stroke-width:0">1700-1800</text>
<text class="S" transform="translate(15.80 667.86) scale(1 1.12)" font-size="8.6" font-weight="bold" textLength="124.7" lengthAdjust="spacing" fill="#000" style="stroke-width:0.12px">One-way flow at PM peak hour</text>
<text class="S" transform="translate(285.20 667.86) scale(1 1.15)" font-size="8.0" text-anchor="middle" textLength="12.4" lengthAdjust="spacing" fill="#000" style="stroke-width:0">890</text>
<text class="S" transform="translate(358.00 667.86) scale(1 1.15)" font-size="8.0" text-anchor="middle" textLength="16.6" lengthAdjust="spacing" fill="#000" style="stroke-width:0">1070</text>
<text class="S" transform="translate(430.20 667.86) scale(1 1.15)" font-size="8.0" text-anchor="middle" textLength="12.4" lengthAdjust="spacing" fill="#000" style="stroke-width:0">870</text>
<text class="S" transform="translate(503.70 667.86) scale(1 1.15)" font-size="8.0" text-anchor="middle" textLength="12.4" lengthAdjust="spacing" fill="#000" style="stroke-width:0">210</text>
<text class="S" transform="translate(15.80 678.93) scale(1 1.12)" font-size="8.6" font-weight="bold" textLength="45.7" lengthAdjust="spacing" fill="#000" style="stroke-width:0.12px">T - % (PM)</text>
<text class="S" transform="translate(285.20 678.93) scale(1 1.15)" font-size="8.0" text-anchor="middle" fill="#000" style="stroke-width:0">-</text>
<text class="S" transform="translate(358.00 678.93) scale(1 1.15)" font-size="8.0" text-anchor="middle" fill="#000" style="stroke-width:0">-</text>
<text class="S" transform="translate(430.20 678.93) scale(1 1.15)" font-size="8.0" text-anchor="middle" fill="#000" style="stroke-width:0">-</text>
<text class="S" transform="translate(503.70 678.93) scale(1 1.15)" font-size="8.0" text-anchor="middle" fill="#000" style="stroke-width:0">-</text>
<text class="S" transform="translate(15.80 690.00) scale(1 1.12)" font-size="8.6" font-weight="bold" textLength="143.2" lengthAdjust="spacing" fill="#000" style="stroke-width:0.12px">Prop.of commercial vehicles - 16 hr.</text>
<text class="S" transform="translate(285.20 690.00) scale(1 1.15)" font-size="8.0" text-anchor="middle" fill="#000" style="stroke-width:0">-</text>
<text class="S" transform="translate(358.00 690.00) scale(1 1.15)" font-size="8.0" text-anchor="middle" fill="#000" style="stroke-width:0">-</text>
<text class="S" transform="translate(430.20 690.00) scale(1 1.15)" font-size="8.0" text-anchor="middle" fill="#000" style="stroke-width:0">-</text>
<text class="S" transform="translate(503.70 690.00) scale(1 1.15)" font-size="8.0" text-anchor="middle" fill="#000" style="stroke-width:0">-</text>
<rect x="13.6" y="703.9" width="89.2" height="11.2" fill="none" stroke="#000" stroke-width="1.7"/>
<text class="S" transform="translate(15.80 711.90) scale(1 1.08)" font-size="9.2" textLength="61.8" lengthAdjust="spacingAndGlyphs" fill="#000" style="stroke-width:0.3px">WEST BOUND</text>
<text class="S" transform="translate(15.80 723.17) scale(1 1.12)" font-size="8.6" font-weight="bold" textLength="35.1" lengthAdjust="spacing" fill="#000" style="stroke-width:0.12px">A.A.D.T.</text>
<text class="S" transform="translate(285.20 723.17) scale(1 1.15)" font-size="8.0" text-anchor="middle" textLength="16.6" lengthAdjust="spacing" fill="#000" style="stroke-width:0">9060</text>
<text class="S" transform="translate(358.00 723.17) scale(1 1.15)" font-size="8.0" text-anchor="middle" textLength="20.7" lengthAdjust="spacing" fill="#000" style="stroke-width:0">10360</text>
<text class="S" transform="translate(430.20 723.17) scale(1 1.15)" font-size="8.0" text-anchor="middle" textLength="20.7" lengthAdjust="spacing" fill="#000" style="stroke-width:0">10160</text>
<text class="S" transform="translate(503.70 723.17) scale(1 1.15)" font-size="8.0" text-anchor="middle" textLength="16.6" lengthAdjust="spacing" fill="#000" style="stroke-width:0">3780</text>
<text class="S" transform="translate(17.80 734.24) scale(1 1.12)" font-size="8.6" font-weight="bold" textLength="52.2" lengthAdjust="spacing" fill="#000" style="stroke-width:0.12px">R 12 / 24 - %</text>
<text class="S" transform="translate(285.20 734.24) scale(1 1.15)" font-size="8.0" text-anchor="middle" textLength="14.5" lengthAdjust="spacing" fill="#000" style="stroke-width:0">90.4</text>
<text class="S" transform="translate(358.00 734.24) scale(1 1.15)" font-size="8.0" text-anchor="middle" textLength="14.5" lengthAdjust="spacing" fill="#000" style="stroke-width:0">90.8</text>
<text class="S" transform="translate(430.20 734.24) scale(1 1.15)" font-size="8.0" text-anchor="middle" textLength="14.5" lengthAdjust="spacing" fill="#000" style="stroke-width:0">91.6</text>
<text class="S" transform="translate(503.70 734.24) scale(1 1.15)" font-size="8.0" text-anchor="middle" textLength="14.5" lengthAdjust="spacing" fill="#000" style="stroke-width:0">82.4</text>
<text class="S" transform="translate(17.80 745.31) scale(1 1.12)" font-size="8.6" font-weight="bold" textLength="52.2" lengthAdjust="spacing" fill="#000" style="stroke-width:0.12px">R 16 / 24 - %</text>
<text class="S" transform="translate(285.20 745.31) scale(1 1.15)" font-size="8.0" text-anchor="middle" textLength="14.5" lengthAdjust="spacing" fill="#000" style="stroke-width:0">96.1</text>
<text class="S" transform="translate(358.00 745.31) scale(1 1.15)" font-size="8.0" text-anchor="middle" textLength="14.5" lengthAdjust="spacing" fill="#000" style="stroke-width:0">96.4</text>
<text class="S" transform="translate(430.20 745.31) scale(1 1.15)" font-size="8.0" text-anchor="middle" textLength="8.3" lengthAdjust="spacing" fill="#000" style="stroke-width:0">96</text>
<text class="S" transform="translate(503.70 745.31) scale(1 1.15)" font-size="8.0" text-anchor="middle" textLength="14.5" lengthAdjust="spacing" fill="#000" style="stroke-width:0">91.5</text>
<text class="S" transform="translate(15.80 756.38) scale(1 1.12)" font-size="8.6" font-weight="bold" textLength="60.5" lengthAdjust="spacing" fill="#000" style="stroke-width:0.12px">AM Peak Hour</text>
<text class="S" transform="translate(285.20 756.38) scale(1 1.15)" font-size="8.0" text-anchor="middle" textLength="35.9" lengthAdjust="spacing" fill="#000" style="stroke-width:0">0800-0900</text>
<text class="S" transform="translate(358.00 756.38) scale(1 1.15)" font-size="8.0" text-anchor="middle" textLength="35.9" lengthAdjust="spacing" fill="#000" style="stroke-width:0">0800-0900</text>
<text class="S" transform="translate(430.20 756.38) scale(1 1.15)" font-size="8.0" text-anchor="middle" textLength="35.9" lengthAdjust="spacing" fill="#000" style="stroke-width:0">0800-0900</text>
<text class="S" transform="translate(503.70 756.38) scale(1 1.15)" font-size="8.0" text-anchor="middle" textLength="35.9" lengthAdjust="spacing" fill="#000" style="stroke-width:0">0900-1000</text>
<text class="S" transform="translate(15.80 767.45) scale(1 1.12)" font-size="8.6" font-weight="bold" textLength="125.7" lengthAdjust="spacing" fill="#000" style="stroke-width:0.12px">One-way flow at AM peak hour</text>
<text class="S" transform="translate(285.20 767.45) scale(1 1.15)" font-size="8.0" text-anchor="middle" textLength="12.4" lengthAdjust="spacing" fill="#000" style="stroke-width:0">860</text>
<text class="S" transform="translate(358.00 767.45) scale(1 1.15)" font-size="8.0" text-anchor="middle" textLength="12.4" lengthAdjust="spacing" fill="#000" style="stroke-width:0">960</text>
<text class="S" transform="translate(430.20 767.45) scale(1 1.15)" font-size="8.0" text-anchor="middle" textLength="16.3" lengthAdjust="spacing" fill="#000" style="stroke-width:0">1120</text>
<text class="S" transform="translate(503.70 767.45) scale(1 1.15)" font-size="8.0" text-anchor="middle" textLength="12.4" lengthAdjust="spacing" fill="#000" style="stroke-width:0">360</text>
<text class="S" transform="translate(15.80 778.52) scale(1 1.12)" font-size="8.6" font-weight="bold" textLength="46.5" lengthAdjust="spacing" fill="#000" style="stroke-width:0.12px">T - % (AM)</text>
<text class="S" transform="translate(285.20 778.52) scale(1 1.15)" font-size="8.0" text-anchor="middle" fill="#000" style="stroke-width:0">-</text>
<text class="S" transform="translate(358.00 778.52) scale(1 1.15)" font-size="8.0" text-anchor="middle" fill="#000" style="stroke-width:0">-</text>
<text class="S" transform="translate(430.20 778.52) scale(1 1.15)" font-size="8.0" text-anchor="middle" fill="#000" style="stroke-width:0">-</text>
<text class="S" transform="translate(503.70 778.52) scale(1 1.15)" font-size="8.0" text-anchor="middle" fill="#000" style="stroke-width:0">-</text>
<text class="S" transform="translate(15.80 789.59) scale(1 1.12)" font-size="8.6" font-weight="bold" textLength="60.7" lengthAdjust="spacing" fill="#000" style="stroke-width:0.12px">PM Peak Hour</text>
<text class="S" transform="translate(285.20 789.59) scale(1 1.15)" font-size="8.0" text-anchor="middle" textLength="35.9" lengthAdjust="spacing" fill="#000" style="stroke-width:0">1600-1700</text>
<text class="S" transform="translate(358.00 789.59) scale(1 1.15)" font-size="8.0" text-anchor="middle" textLength="35.9" lengthAdjust="spacing" fill="#000" style="stroke-width:0">1600-1700</text>
<text class="S" transform="translate(430.20 789.59) scale(1 1.15)" font-size="8.0" text-anchor="middle" textLength="35.9" lengthAdjust="spacing" fill="#000" style="stroke-width:0">1600-1700</text>
<text class="S" transform="translate(503.70 789.59) scale(1 1.15)" font-size="8.0" text-anchor="middle" textLength="35.9" lengthAdjust="spacing" fill="#000" style="stroke-width:0">1600-1700</text>
<text class="S" transform="translate(15.80 800.66) scale(1 1.12)" font-size="8.6" font-weight="bold" textLength="124.7" lengthAdjust="spacing" fill="#000" style="stroke-width:0.12px">One-way flow at PM peak hour</text>
<text class="S" transform="translate(285.20 800.66) scale(1 1.15)" font-size="8.0" text-anchor="middle" textLength="12.4" lengthAdjust="spacing" fill="#000" style="stroke-width:0">730</text>
<text class="S" transform="translate(358.00 800.66) scale(1 1.15)" font-size="8.0" text-anchor="middle" textLength="12.4" lengthAdjust="spacing" fill="#000" style="stroke-width:0">830</text>
<text class="S" transform="translate(430.20 800.66) scale(1 1.15)" font-size="8.0" text-anchor="middle" textLength="12.4" lengthAdjust="spacing" fill="#000" style="stroke-width:0">910</text>
<text class="S" transform="translate(503.70 800.66) scale(1 1.15)" font-size="8.0" text-anchor="middle" textLength="12.4" lengthAdjust="spacing" fill="#000" style="stroke-width:0">240</text>
<text class="S" transform="translate(15.80 811.73) scale(1 1.12)" font-size="8.6" font-weight="bold" textLength="45.7" lengthAdjust="spacing" fill="#000" style="stroke-width:0.12px">T - % (PM)</text>
<text class="S" transform="translate(285.20 811.73) scale(1 1.15)" font-size="8.0" text-anchor="middle" fill="#000" style="stroke-width:0">-</text>
<text class="S" transform="translate(358.00 811.73) scale(1 1.15)" font-size="8.0" text-anchor="middle" fill="#000" style="stroke-width:0">-</text>
<text class="S" transform="translate(430.20 811.73) scale(1 1.15)" font-size="8.0" text-anchor="middle" fill="#000" style="stroke-width:0">-</text>
<text class="S" transform="translate(503.70 811.73) scale(1 1.15)" font-size="8.0" text-anchor="middle" fill="#000" style="stroke-width:0">-</text>
<text class="S" transform="translate(15.80 822.80) scale(1 1.12)" font-size="8.6" font-weight="bold" textLength="143.2" lengthAdjust="spacing" fill="#000" style="stroke-width:0.12px">Prop.of commercial vehicles - 16 hr.</text>
<text class="S" transform="translate(285.20 822.80) scale(1 1.15)" font-size="8.0" text-anchor="middle" fill="#000" style="stroke-width:0">-</text>
<text class="S" transform="translate(358.00 822.80) scale(1 1.15)" font-size="8.0" text-anchor="middle" fill="#000" style="stroke-width:0">-</text>
<text class="S" transform="translate(430.20 822.80) scale(1 1.15)" font-size="8.0" text-anchor="middle" fill="#000" style="stroke-width:0">-</text>
<text class="S" transform="translate(503.70 822.80) scale(1 1.15)" font-size="8.0" text-anchor="middle" fill="#000" style="stroke-width:0">-</text>
<text class="S" transform="translate(4.40 845.30) scale(1 1.08)" font-size="8.8" font-weight="bold" textLength="190.9" lengthAdjust="spacing" fill="#000" style="stroke-width:0.05px">3. OTHER INFORMATION AND COMMENT</text>
<text class="S" transform="translate(282.90 883.90) scale(1 1.08)" font-size="10" textLength="25.5" lengthAdjust="spacingAndGlyphs" fill="#000">A2-78</text>
</svg>
</body></html>
